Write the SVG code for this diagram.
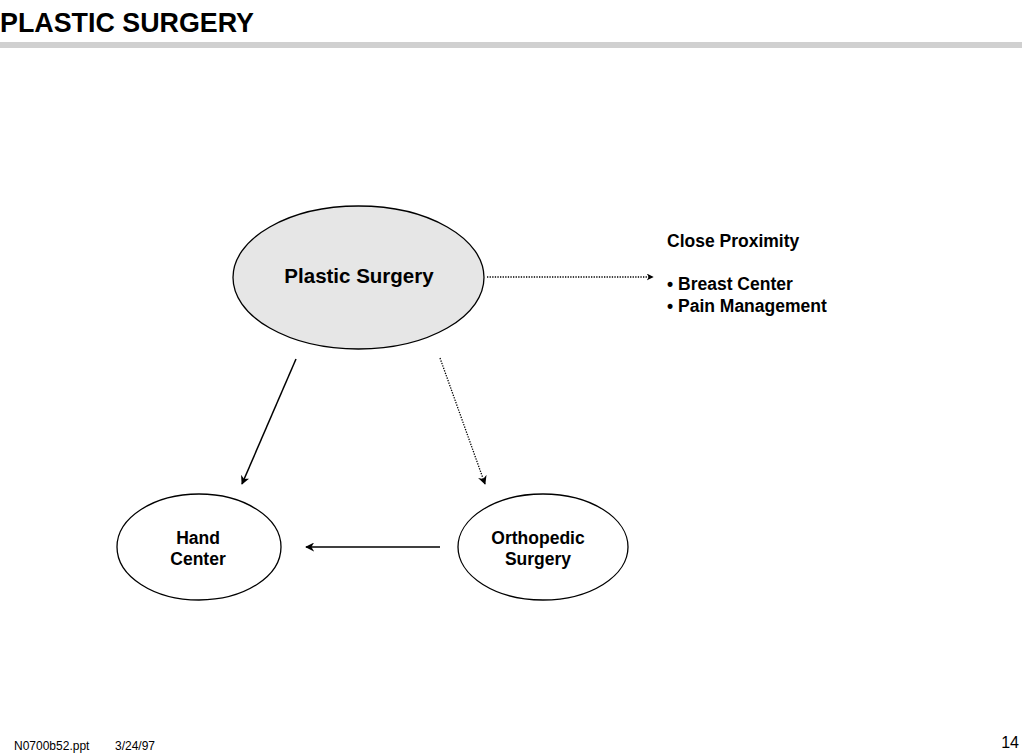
<svg xmlns="http://www.w3.org/2000/svg" width="1024" height="754" viewBox="0 0 1024 754">
<style>
text{font-family:"Liberation Sans",Arial,sans-serif;fill:#000}
.b{font-weight:bold}
.node{stroke:#000;stroke-width:1.3}
.c{stroke:#000;stroke-width:1.5;fill:none}
.d{stroke:#000;stroke-width:1.3;fill:none;stroke-dasharray:1.3 1.3}
</style>
<defs>
<marker id="ah" viewBox="0 0 10 10" refX="9" refY="5" markerWidth="7" markerHeight="7" markerUnits="userSpaceOnUse" orient="auto">
<path d="M0,0 L10,5 L0,10 L3,5 Z" fill="#000"/>
</marker>
<marker id="ah2" viewBox="0 0 10 10" refX="9" refY="5" markerWidth="9" markerHeight="9" markerUnits="userSpaceOnUse" orient="auto">
<path d="M0,0 L10,5 L0,10 L3,5 Z" fill="#000"/>
</marker>
</defs>
<rect width="1024" height="754" fill="#fff"/>
<text class="b" x="0" y="32" font-size="28" textLength="254" lengthAdjust="spacingAndGlyphs">PLASTIC SURGERY</text>
<rect x="0" y="42" width="1022" height="6" fill="#d0d0d0"/>
<g id="connectors">
<line class="d" x1="487" y1="277" x2="653" y2="277" marker-end="url(#ah)"/>
<line class="c" x1="296" y1="359" x2="242" y2="484" marker-end="url(#ah2)"/>
<line class="d" x1="440" y1="358" x2="485" y2="484" marker-end="url(#ah2)"/>
<line class="c" x1="440" y1="547" x2="306" y2="547" marker-end="url(#ah2)"/>
</g>
<g id="plastic">
<ellipse class="node" cx="358.5" cy="277.5" rx="125.5" ry="71.5" fill="#e6e6e6"/>
<text class="b" x="359" y="283" font-size="20.5" text-anchor="middle">Plastic Surgery</text>
</g>
<g id="proximity">
<text class="b" x="667" y="247" font-size="17.5">Close Proximity</text>
<text class="b" x="667" y="290" font-size="17.5">• Breast Center</text>
<text class="b" x="667" y="312" font-size="17.5">• Pain Management</text>
</g>
<g id="hand">
<ellipse class="node" cx="199" cy="547" rx="82" ry="53" fill="#fff"/>
<text class="b" x="198" y="544" font-size="17.5" text-anchor="middle">Hand</text>
<text class="b" x="198" y="565" font-size="17.5" text-anchor="middle">Center</text>
</g>
<g id="ortho">
<ellipse class="node" cx="543" cy="547" rx="85" ry="53" fill="#fff"/>
<text class="b" x="538" y="544" font-size="17.5" text-anchor="middle">Orthopedic</text>
<text class="b" x="538" y="565" font-size="17.5" text-anchor="middle">Surgery</text>
</g>
<text x="14" y="750" font-size="12">N0700b52.ppt</text>
<text x="115" y="750" font-size="12">3/24/97</text>
<text x="1019" y="748" font-size="16" text-anchor="end">14</text>
</svg>
